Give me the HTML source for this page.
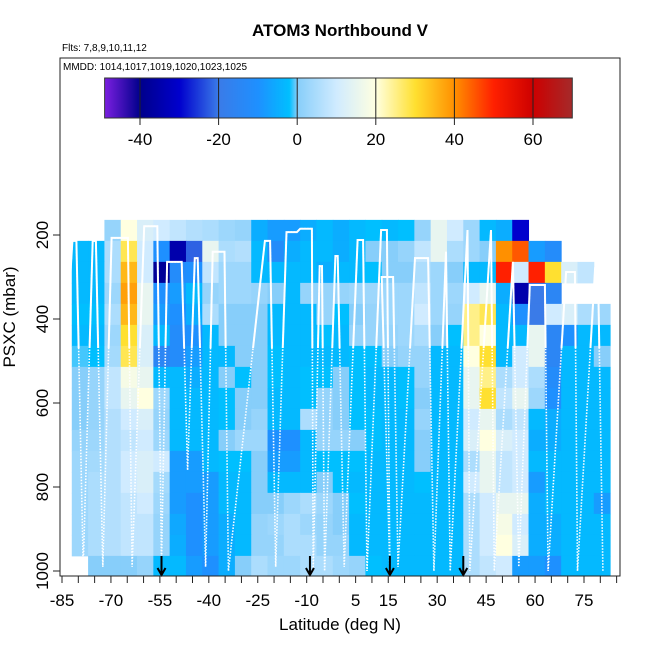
<!DOCTYPE html>
<html><head><meta charset="utf-8"><style>
html,body{margin:0;padding:0;background:#fff}
svg text{font-family:"Liberation Sans",sans-serif}
</style></head><body>
<svg id="chart" width="650" height="650" viewBox="0 0 650 650" xmlns="http://www.w3.org/2000/svg">
<defs>
<linearGradient id="cbg" x1="0" x2="1" y1="0" y2="0">
<stop offset="0" stop-color="#7b1fe0"/><stop offset="0.076" stop-color="#00008b"/><stop offset="0.16" stop-color="#0000cd"/>
<stop offset="0.244" stop-color="#3a7be8"/><stop offset="0.328" stop-color="#1e90ff"/><stop offset="0.395" stop-color="#00bfff"/>
<stop offset="0.412" stop-color="#87cefa"/><stop offset="0.496" stop-color="#d0ebff"/><stop offset="0.58" stop-color="#ffffe0"/>
<stop offset="0.664" stop-color="#ffe030"/><stop offset="0.748" stop-color="#ff9000"/><stop offset="0.832" stop-color="#ff2000"/>
<stop offset="0.916" stop-color="#cd0000"/><stop offset="1" stop-color="#a52a2a"/>
</linearGradient>
<clipPath id="plotclip"><rect x="60" y="58" width="560" height="518"/></clipPath>
<clipPath id="topclip"><rect x="60" y="58" width="560" height="290"/></clipPath>
</defs>
<text x="340" y="36" text-anchor="middle" font-size="17" font-weight="bold">ATOM3 Northbound V</text>
<text x="62" y="51" font-size="10">Flts: 7,8,9,10,11,12</text>
<g id="heat" clip-path="url(#plotclip)"></g>
<g id="profiles"></g>
<rect x="60" y="58" width="560" height="518" fill="none" stroke="#222" stroke-width="1"/>
<text x="63" y="70" font-size="10">MMDD: 1014,1017,1019,1020,1023,1025</text>
<g id="cbar"></g>
<g id="axes"></g>
<text x="340" y="630" text-anchor="middle" font-size="17">Latitude (deg N)</text>
<text transform="translate(15,317) rotate(-90)" text-anchor="middle" font-size="17">PSXC (mbar)</text>
</svg>
<script>
const latEdges0 = -82, latStep = 5;
const pTop0 = 164, pStep = 50;
const xTicks = [-85,-70,-55,-40,-25,-10,5,15,30,45,60,75];
const yTicks = [200,400,600,800,1000];
const cbTicks = [-40,-20,0,20,40,60];
const arrowLats = [-54.5,-9,15.5,38];
const N=null;
const row0=[N,N,2,20,12,10,8,6,5,3,2,-5,-8,-8,-5,-3,-5,-3,-2,-3,-2,2,15,10,3,-3,-5,-30,N,N,N,N,N];
const row1=[-3,-3,5,28,10,-10,-35,-22,15,5,6,-3,-12,-5,-3,-3,-5,-3,0,0,2,8,15,5,3,0,40,45,-8,-12,N,N,N];
const row2=[-3,-3,5,35,10,-38,-12,-10,8,3,3,-3,-3,-3,-3,-5,-3,-3,-2,0,0,5,3,0,-3,-3,50,10,50,30,12,8,N];
const row3=[-3,-3,3,38,15,-10,-8,-3,2,3,3,2,0,-3,2,2,2,3,3,3,3,8,3,3,10,15,-5,-35,-20,-15,N,N,N];
const row4=[-2,-2,5,35,15,-8,-10,-5,5,0,0,0,-3,-3,-3,2,-2,0,2,3,3,10,3,2,25,28,-3,-10,-20,10,12,5,3];
const row5=[-3,-3,3,30,12,-3,-12,-10,-3,0,0,0,-3,-3,-3,-2,-3,2,2,2,3,5,0,-2,25,20,-3,-3,15,-15,-10,-3,-3];
const row6=[-1,-2,4,28,12,-15,-12,-8,-3,-3,0,0,-2,-3,-3,-3,-3,-2,-2,0,2,2,-3,-3,20,30,-3,10,15,-15,-3,-3,0];
const row7=[0,2,8,18,15,-3,-3,-5,-3,0,-2,0,-2,-3,-2,-2,0,-2,-3,-3,-2,2,-3,-3,15,25,5,10,5,-12,-3,-3,-3];
const row8=[0,2,8,15,20,3,-3,-3,-3,-2,0,0,-3,-3,-2,2,0,-2,-3,-3,-2,0,-3,-3,15,30,8,15,3,-10,-3,-3,-3];
const row9=[0,2,6,10,12,2,-3,-3,-3,-2,0,2,-3,-3,5,2,0,-2,-2,-3,-3,2,-3,-3,10,15,5,8,-3,-5,-3,-3,-3];
const row10=[2,3,6,8,10,3,-3,-3,-3,0,3,3,-10,-10,-3,2,2,0,-2,-3,-3,0,-3,-3,12,20,12,10,-5,-5,-3,-3,-3];
const row11=[3,4,6,10,12,10,-8,-8,-3,-2,-2,0,-8,-8,-3,-2,-2,-2,-3,-3,-3,0,-3,-3,5,15,8,10,-3,-3,-3,-3,-3];
const row12=[3,5,6,10,12,4,-8,-8,-8,-3,-3,0,-3,-3,-3,0,-2,-3,-3,-3,-3,-2,-3,-3,10,15,8,10,-8,-3,-3,-3,-3];
const row13=[3,5,6,8,10,3,-8,-10,-8,-3,-3,0,0,3,5,3,0,-2,-3,-3,-3,-3,-3,-3,5,10,15,15,-5,-3,-3,-3,-8];
const row14=[3,5,6,8,8,2,-6,-10,-8,-5,-3,2,3,5,3,2,0,-3,-3,-3,-3,-3,-3,-3,5,10,18,10,-5,-5,-3,-3,-3];
const row15=[3,5,6,8,8,2,-5,-10,-8,-5,-3,2,2,5,5,2,2,-3,-3,-3,-3,-3,-3,-3,5,10,20,12,-5,-5,-3,-3,-3];
const row16=[N,0,0,0,2,-3,-3,-8,-10,-5,0,5,3,3,5,5,3,2,-2,-3,-3,-3,-3,-3,5,8,10,-8,-8,-10,-3,-3,-3];
const rows=[row0,row1,row2,row3,row4,row5,row6,row7,row8,row9,row10,row11,row12,row13,row14,row15,row16];
const profLat=[-82.5,-81.8,-80.6,-78.5,-75.6,-74.6,-72.5,-69.8,-64.8,-63.5,-59.8,-55.8,-54.5,-52.8,-48.3,-46.5,-44.3,-43.4,-41,-38.8,-35.2,-34,-22.8,-21.2,-19.5,-16.2,-13,-12,-8.4,-8,-6,-5.3,-4.5,-1.2,-0.5,1.5,5.6,7.3,8.5,12.8,14.6,15.5,13,16.5,18,23.2,27.2,29,32.7,34,39.3,40,46.5,47.5,53.2,55,58.4,63,64,69.5,72.2,73,78.4,79.3,80.8];
const profP=[300,214,214,990,214,214,990,207,207,990,179,179,980,264,264,760,255,255,990,240,240,1000,214,214,990,193,193,185,185,1000,274,274,1000,250,250,990,212,212,1000,188,188,1000,300,300,990,255,255,1000,240,1000,188,1000,188,1000,264,990,319,319,1000,288,288,1000,279,279,1000];

const NS='http://www.w3.org/2000/svg';
const X=lat=>62+(lat+85)*3.2625;
const Y=p=>235+(p-200)*0.42;
const CX=v=>140+(v+40)*3.93;
const stops=[[-49,[123,31,224]],[-40,[0,0,139]],[-30,[0,0,205]],[-20,[58,123,232]],[-10,[30,144,255]],[-2,[0,191,255]],[0,[135,206,250]],[10,[208,235,255]],[20,[255,255,224]],[30,[255,224,48]],[40,[255,144,0]],[50,[255,32,0]],[60,[205,0,0]],[70,[165,42,42]]];
function col(v){
  if(v<=stops[0][0])return 'rgb('+stops[0][1]+')';
  for(let i=1;i<stops.length;i++){if(v<=stops[i][0]){const a=stops[i-1],b=stops[i],t=(v-a[0])/(b[0]-a[0]);
    return 'rgb('+a[1].map((c,k)=>Math.round(c+(b[1][k]-c)*t)).join(',')+')';}}
  return 'rgb('+stops[stops.length-1][1]+')';
}
function mk(tag,attrs,parent){const e=document.createElementNS(NS,tag);for(const k in attrs)e.setAttribute(k,attrs[k]);parent.appendChild(e);return e;}
const heat=document.getElementById('heat');
rows.forEach((r,ri)=>{
  const p0=pTop0+ri*pStep,p1=p0+pStep;
  r.forEach((v,ci)=>{
    if(v===null)return;
    const l0=latEdges0+ci*latStep,l1=l0+latStep;
    const e=mk('rect',{x:X(l0),y:Y(p0),width:X(l1)-X(l0)+0.5,height:Y(p1)-Y(p0)+0.5,fill:col(v)},heat);
    
    
  });
});
const prof=document.getElementById('profiles');
const pts=profLat.map((l,i)=>X(l).toFixed(1)+','+Y(profP[i]).toFixed(1)).join(' ');
const pd=mk('polyline',{points:pts,fill:'none',stroke:'#fff','stroke-width':1.6,'stroke-dasharray':'1.5,1.5'},prof);


const ps=mk('polyline',{points:pts,fill:'none',stroke:'#fff','stroke-width':2,'clip-path':'url(#topclip)'},prof);


arrowLats.forEach(l=>{
  const x=X(l);
  const a=mk('path',{d:`M${x},556 L${x},575 M${x-4},568 L${x},575 L${x+4},568`,stroke:'#000','stroke-width':2,fill:'none'},prof);
  
  
});
const axes=document.getElementById('axes');
for(let l=-85;l<=85;l+=5){const t=mk('line',{x1:X(l),x2:X(l),y1:576,y2:583,stroke:'#222'},axes);
  
  }
xTicks.forEach(l=>{const t=mk('text',{x:X(l),y:606,'text-anchor':'middle','font-size':17},axes);t.textContent=l;
  
  });
yTicks.forEach(p=>{
  const t=mk('line',{x1:53,x2:60,y1:Y(p),y2:Y(p),stroke:'#222'},axes);
  
  
  const s=mk('text',{transform:`translate(48,${Y(p)}) rotate(-90)`,'text-anchor':'middle','font-size':17},axes);s.textContent=p;
  
  
});
const cb=document.getElementById('cbar');
const cbr=mk('rect',{x:CX(-49),y:78,width:CX(70)-CX(-49),height:40,fill:'url(#cbg)',stroke:'#333'},cb);


cbTicks.forEach(v=>{
  const l=mk('line',{x1:CX(v),x2:CX(v),y1:78,y2:125,stroke:'#222'},cb);
  
  
  const t=mk('text',{x:CX(v),y:145,'text-anchor':'middle','font-size':17},cb);t.textContent=v;
  
  
});
</script>
</body></html>
